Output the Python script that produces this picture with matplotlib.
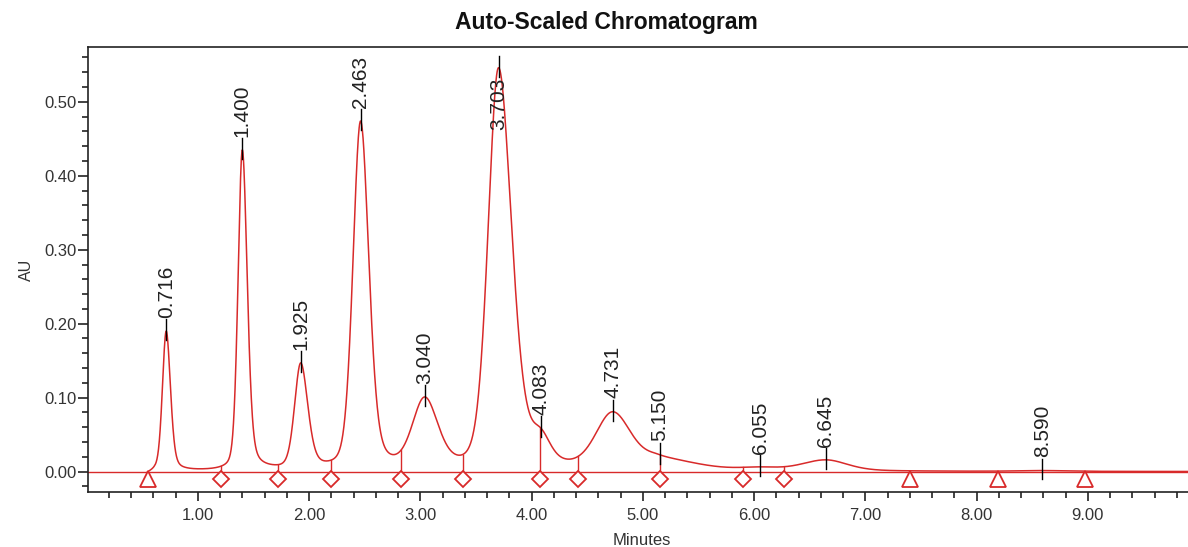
import numpy as np
import matplotlib
matplotlib.use('Agg')
import matplotlib.pyplot as plt

plt.rcParams['font.family'] = ['Liberation Sans', 'DejaVu Sans']

# Peak table (retention time in min, apex height in AU)
peak_rt = [0.716, 1.400, 1.925, 2.463, 3.040, 3.703, 4.083, 4.731, 5.150, 6.055, 6.645, 8.590]
peak_height = [0.190, 0.435, 0.147, 0.474, 0.101, 0.546, 0.059, 0.081, 0.023, 0.0065, 0.016, 0.0015]
# half widths at half maximum, left and right side (min)
peak_hw_left = [0.040, 0.045, 0.065, 0.080, 0.130, 0.110, 0.100, 0.180, 0.150, 0.200, 0.250, 0.250]
peak_hw_right = [0.045, 0.052, 0.075, 0.088, 0.140, 0.140, 0.100, 0.200, 0.380, 0.200, 0.230, 0.250]
lorentz_left = 0.25
lorentz_right = 0.35

# integration marks
diamond_x = [1.21, 1.72, 2.20, 2.83, 3.38, 4.08, 4.42, 5.15, 5.90, 6.27]
triangle_x = [0.55, 7.40, 8.19, 8.97]

xticks = [1, 2, 3, 4, 5, 6, 7, 8, 9]
yticks = [0.0, 0.1, 0.2, 0.3, 0.4, 0.5]

red = '#d82a2a'


def peak_shape(x, rt, hw_l, hw_r):
    # asymmetric pseudo-Voigt with unit height
    left = x < rt
    w = np.where(left, hw_l, hw_r)
    eta = np.where(left, lorentz_left, lorentz_right)
    d = (x - rt) / w
    return eta / (1 + d ** 2) + (1 - eta) * np.exp(-np.log(2) * d ** 2)


def trace(x, amps):
    y = np.zeros_like(x, dtype=float)
    for a, rt, hl, hr in zip(amps, peak_rt, peak_hw_left, peak_hw_right):
        y += a * peak_shape(x, rt, hl, hr)
    return y


# amplitudes chosen so the summed trace passes through each apex height
A = np.array([[peak_shape(np.array([r]), rt, hl, hr)[0]
               for rt, hl, hr in zip(peak_rt, peak_hw_left, peak_hw_right)] for r in peak_rt])
amps = np.linalg.solve(A, np.array(peak_height))

x = np.linspace(triangle_x[0], 10.0, 4000)
y = trace(x, amps)
y = y - y[0] * np.clip(1 - (x - x[0]) / 0.06, 0, 1)

fig = plt.figure(figsize=(11.88, 5.47), dpi=100)
ax = fig.add_axes([88 / 1188, 55 / 547, 1100 / 1188, 445 / 547])

ax.axhline(0, color=red, lw=1.0, zorder=2)
ax.plot(x, y, color=red, lw=1.1, zorder=3)

# drop lines and baseline marks
for dx in diamond_x:
    ax.plot([dx, dx], [-0.008, np.interp(dx, x, y)], color=red, lw=1.0, zorder=3)
ax.plot(diamond_x, [-0.0097] * len(diamond_x), ls='none', marker='D', ms=8.5,
        mfc='white', mec=red, mew=1.3, zorder=4)
ax.plot(triangle_x, [-0.0097] * len(triangle_x), ls='none', marker='^', ms=11,
        mfc='white', mec=red, mew=1.3, zorder=4)

# peak labels
for rt in peak_rt:
    yc = np.interp(rt, x, y)
    ax.plot([rt, rt], [yc - 0.012, yc + 0.016], color='black', lw=1.0, zorder=5)
    if yc + 0.09 > 0.574:
        ax.text(rt, 0.533, '%.3f' % rt, rotation=90, ha='center', va='top',
                fontsize=15, color='#222222', zorder=6)
    else:
        ax.text(rt, yc + 0.018, '%.3f' % rt, rotation=90, ha='center', va='bottom',
                fontsize=15, color='#222222', zorder=6)

ax.set_xlim(0.013, 9.90)
ax.set_ylim(-0.0275, 0.574)
ax.set_xticks(xticks)
ax.set_xticklabels(['%.2f' % t for t in xticks])
ax.set_xticks(np.arange(0.2, 9.9, 0.2), minor=True)
ax.set_yticks(yticks)
ax.set_yticklabels(['%.2f' % t for t in yticks])
ax.set_yticks(np.arange(-0.02, 0.57, 0.02), minor=True)
ax.tick_params(axis='both', which='major', labelsize=12, labelcolor='#333333',
               color='#222222', width=1.2)
ax.tick_params(axis='x', which='major', length=6.5, pad=5)
ax.tick_params(axis='y', which='major', length=7, pad=1)
ax.tick_params(axis='both', which='minor', length=4, width=1.2, color='#222222')
for s in ['left', 'bottom', 'top']:
    ax.spines[s].set_color('#222222')
    ax.spines[s].set_linewidth(1.2)
ax.spines['right'].set_visible(False)

fig.text(606.5 / 1188, 1 - 22 / 547, 'Auto-Scaled Chromatogram', ha='center', va='center',
         fontsize=16.5, fontweight='bold', color='#111111')
fig.text(26 / 1188, 1 - 270 / 547, 'AU', rotation=90, ha='center', va='center',
         fontsize=11.5, color='#333333')
fig.text(642 / 1188, 1 - 533 / 547, 'Minutes', ha='center', va='top',
         fontsize=12, color='#333333')

fig.savefig('out.png', dpi=100)
